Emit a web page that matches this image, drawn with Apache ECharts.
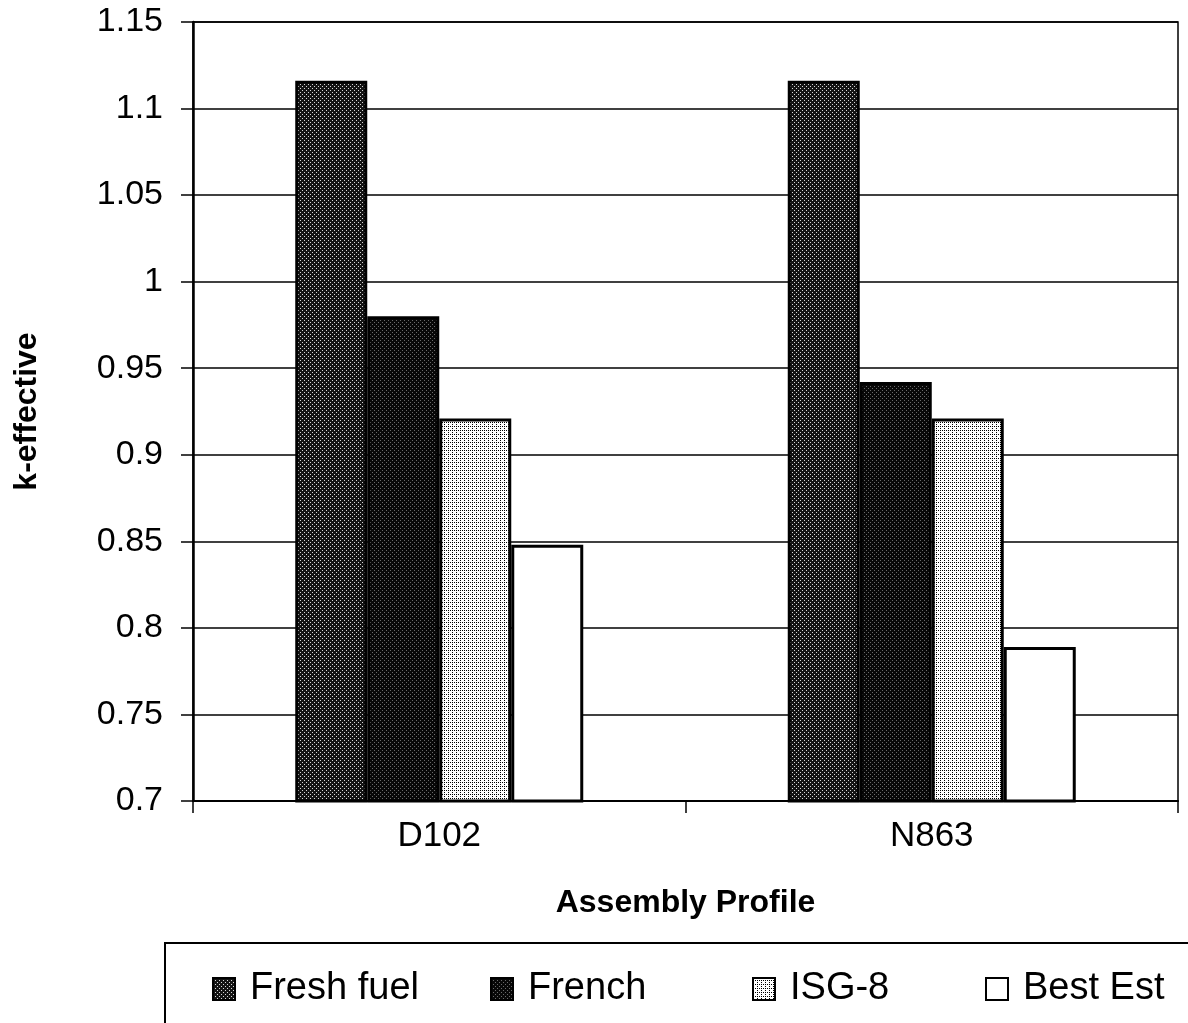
<!DOCTYPE html>
<html>
<head>
<meta charset="utf-8">
<script src="https://cdn.jsdelivr.net/npm/echarts@6/dist/echarts.min.js"></script>
<style>
html,body{margin:0;padding:0;background:#fff;}
#chart{width:1188px;height:1023px;}
</style>
</head>
<body>
<div id="chart"></div>
<script>
var categories = ['D102', 'N863'];
var seriesNames = ['Fresh fuel', 'French', 'ISG-8', 'Best Est'];
var freshFuel = [1.116, 1.116];
var french = [0.980, 0.942];
var isg8 = [0.921, 0.921];
var bestEst = [0.848, 0.789];
var yTicks = { min: 0.7, max: 1.15, interval: 0.05 };

function makePattern(size, bg, dots, dotColor) {
  var c = document.createElement('canvas');
  c.width = size; c.height = size;
  var g = c.getContext('2d');
  g.fillStyle = bg; g.fillRect(0, 0, size, size);
  g.fillStyle = dotColor;
  dots.forEach(function (d) { g.fillRect(d[0], d[1], 1, 1); });
  return { image: c, repeat: 'repeat' };
}
var fills = [
  makePattern(4, '#141414', [[0, 0], [2, 2]], '#d8d8d8'),
  makePattern(4, '#080808', [[0, 0], [2, 2]], '#6a6a6a'),
  makePattern(4, '#ffffff', [[0, 0], [2, 2], [0, 2]], '#000000'),
  '#ffffff'
];
var values = [freshFuel, french, isg8, bestEst];

var font = 'Liberation Sans, Arial, sans-serif';
var chart = echarts.init(document.getElementById('chart'), null, { renderer: 'canvas' });

var series = seriesNames.map(function (n, i) {
  return {
    name: n,
    type: 'bar',
    data: values[i],
    barWidth: 72,
    barGap: '0%',
    itemStyle: { color: fills[i], borderColor: '#000', borderWidth: 3 }
  };
});

var legendX = [212, 490, 752, 985];
var legends = seriesNames.map(function (n, i) {
  return {
    data: [n],
    left: legendX[i],
    top: 970,
    itemWidth: 22,
    itemHeight: 22,
    itemGap: 0,
    padding: 0,
    icon: 'rect',
    selectedMode: false,
    textStyle: { fontFamily: font, fontSize: 38, color: '#000', padding: [0, 0, 0, 10] }
  };
});

chart.setOption({
  animation: false,
  backgroundColor: '#fff',
  grid: { left: 193, right: 10, top: 22, bottom: 222, show: true, borderColor: '#000', borderWidth: 1.5, containLabel: false },
  legend: legends,
  xAxis: {
    type: 'category',
    data: categories,
    name: 'Assembly Profile',
    nameLocation: 'middle',
    nameGap: 86,
    nameTextStyle: { fontFamily: font, fontSize: 32, fontWeight: 'bold', color: '#000' },
    axisLine: { lineStyle: { color: '#000', width: 2 } },
    axisTick: { show: true, length: 12, lineStyle: { color: '#000', width: 1.5 } },
    axisLabel: { fontFamily: font, fontSize: 35, color: '#000', margin: 18 }
  },
  yAxis: {
    type: 'value',
    min: yTicks.min,
    max: yTicks.max,
    interval: yTicks.interval,
    name: 'k-effective',
    nameLocation: 'middle',
    nameRotate: 90,
    nameGap: 150,
    nameTextStyle: { fontFamily: font, fontSize: 32, fontWeight: 'bold', color: '#000' },
    axisLine: { show: true, lineStyle: { color: '#000', width: 2.5 } },
    axisTick: { show: true, length: 12, lineStyle: { color: '#000', width: 1.5 } },
    axisLabel: { fontFamily: font, fontSize: 34, color: '#000', margin: 30 },
    splitLine: { show: true, lineStyle: { color: '#000', width: 1.5 } }
  },
  graphic: [{
    type: 'rect',
    shape: { x: 165, y: 943, width: 1100, height: 200 },
    style: { fill: 'none', stroke: '#000', lineWidth: 2 },
    silent: true
  }],
  series: series
});
</script>
</body>
</html>
